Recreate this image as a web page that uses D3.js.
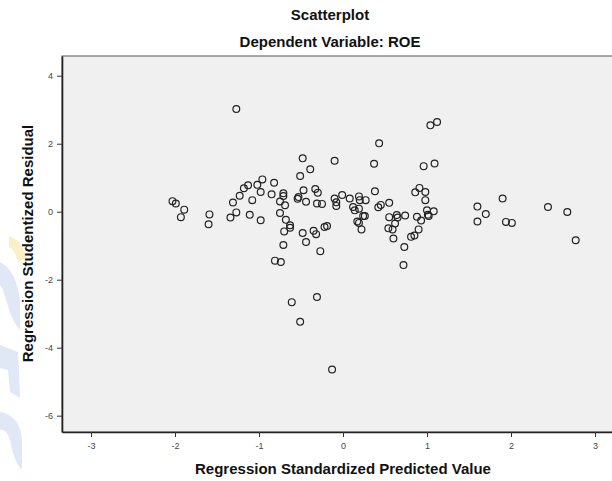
<!DOCTYPE html>
<html>
<head>
<meta charset="utf-8">
<script src="https://d3js.org/d3.v7.min.js"></script>
<style>
	body { margin: 0; background: #fff; }
	svg { display: block; }
</style>
</head>
<body>
<div id="chart-area"></div>
<script>
// values read off the reference scatterplot
// x = Regression Standardized Predicted Value
var predicted = [
	-1.27, -2.03, -1.99, -1.89, -1.93, -1.59, -1.60, -1.31, -1.23, -1.18,
	-1.13, -1.08, -1.27, -1.34, -1.11, -1.02, -0.98, -0.98,
	-0.48, -0.10, -0.39, -0.51, -0.96, -0.82, -0.85, -0.71, -0.71, -0.47,
	-0.33, -0.30, -0.53, -0.54, -0.44, -0.75, -0.69, -0.31, -0.25, -0.10,
	-0.08, -0.01, 0.08, -0.08, -0.75, -0.68, -0.63, -0.63, -0.70, -0.48,
	-0.35, -0.32, -0.22, -0.19, -0.44, -0.71, -0.27, -0.81, -0.74,
	0.37, 0.43, 0.38, 0.19, 0.20, 0.27, 0.12, 0.14, 0.19, 0.24,
	0.26, 0.17, 0.19, 0.22, 0.42, 0.45, 0.55, 0.55, 0.64, 0.65,
	0.74, 0.62, 0.54, 0.59, 0.60, 0.88, 0.93, 1.00, 1.08, 1.02,
	1.01, 0.90, 0.85, 0.81, 0.73, 0.72, 0.91, 0.86, 0.98, 0.98,
	0.96, 1.09, 1.04, 1.12,
	1.60, 1.70, 1.60, 1.90, 1.94, 2.01, 2.44, 2.67, 2.77,
	-0.31, -0.61, -0.51, -0.13
];
// y = Regression Studentized Residual
var residual = [
	3.02, 0.31, 0.24, 0.06, -0.16, -0.08, -0.37, 0.27, 0.47, 0.69,
	0.78, 0.34, -0.02, -0.17, -0.09, 0.79, 0.58, -0.25,
	1.57, 1.50, 1.25, 1.05, 0.95, 0.85, 0.51, 0.54, 0.46, 0.63,
	0.67, 0.56, 0.43, 0.38, 0.29, 0.30, 0.19, 0.24, 0.23, 0.39,
	0.28, 0.49, 0.39, 0.17, -0.04, -0.24, -0.40, -0.47, -0.58, -0.63,
	-0.56, -0.66, -0.45, -0.42, -0.89, -0.98, -1.16, -1.44, -1.48,
	1.41, 2.01, 0.60, 0.45, 0.34, 0.34, 0.14, 0.04, 0.09, -0.13,
	-0.13, -0.29, -0.33, -0.52, 0.13, 0.20, 0.26, -0.16, -0.10, -0.17,
	-0.11, -0.35, -0.49, -0.52, -0.79, -0.15, -0.26, 0.04, 0.01, -0.13,
	-0.09, -0.52, -0.70, -0.74, -1.04, -1.57, 0.70, 0.57, 0.58, 0.34,
	1.34, 1.42, 2.54, 2.64,
	0.15, -0.07, -0.29, 0.39, -0.30, -0.33, 0.14, -0.01, -0.84,
	-2.51, -2.66, -3.24, -4.64
];
var xTicks = [-3, -2, -1, 0, 1, 2, 3];
var yTicks = [4, 2, 0, -2, -4, -6];

var titleText = "Scatterplot";
var subTitleText = "Dependent Variable: ROE";
var xTitle = "Regression Standardized Predicted Value";
var yTitle = "Regression Studentized Residual";

//svg area
var svg_x = 612;
var svg_y = 481;

//plot frame (right edge runs a little past the picture)
var margin = {left:62, top:56};
var width = 562;
var height = 376;

var font = "Arial, 'Liberation Sans', sans-serif";

var svg = d3.select("#chart-area")
	.append("svg")
		.attr("width", svg_x)
		.attr("height", svg_y)
		.style("font-family", font);

//faint watermark at the left edge
var wm = svg.append("g").attr("opacity", 0.55);
wm.append("path")
	.attr("d", "M0,262 Q16,270 20,300 L20,330 Q12,322 6,300 Q3,288 0,285 Z")
	.attr("fill", "#c7d6ef");
wm.append("path")
	.attr("d", "M0,345 L18,352 L20,398 L10,392 L8,370 L0,368 Z")
	.attr("fill", "#c7d6ef");
wm.append("path")
	.attr("d", "M0,412 Q20,415 22,440 L22,470 Q14,462 10,440 Q6,428 0,430 Z")
	.attr("fill", "#c7d6ef");
wm.append("path")
	.attr("d", "M9,236 Q22,240 26,258 L18,262 Q15,250 9,247 Z")
	.attr("fill", "#f4e49a");

var g = svg.append("g")
	.attr("transform", "translate(" + margin.left + "," + margin.top + ")");

//scaling
var x = d3.scaleLinear()
	.domain([-3.345, 3.345])
	.range([0, width]);
var y = d3.scaleLinear()
	.domain([-6.48, 4.58])
	.range([height, 0]);

//plot background
g.append("rect")
	.attr("width", width)
	.attr("height", height)
	.attr("fill", "#f0f0f0")
	.attr("stroke", "#555")
	.attr("stroke-width", 1);

//axis
var xAxisCall = d3.axisBottom(x)
	.tickValues(xTicks)
	.tickSizeInner(5)
	.tickSizeOuter(0)
	.tickPadding(6)
	.tickFormat(d => String(d));
var xAxis = g.append("g")
	.attr("transform", "translate(0," + height + ")")
	.call(xAxisCall);

var yAxisCall = d3.axisLeft(y)
	.tickValues(yTicks)
	.tickSizeInner(5)
	.tickSizeOuter(0)
	.tickPadding(4)
	.tickFormat(d => String(d));
var yAxis = g.append("g")
	.call(yAxisCall);

[xAxis, yAxis].forEach(a => {
	a.select(".domain").attr("stroke", "#222").attr("stroke-width", 1.6);
	a.selectAll(".tick line").attr("stroke", "#333");
	a.selectAll(".tick text")
		.attr("fill", "#444")
		.attr("font-size", 9)
		.attr("font-family", font);
});

//points
g.selectAll("circle")
	.data(predicted.map((p, i) => ({x: p, y: residual[i]})))
	.enter()
	.append("circle")
		.attr("cx", d => x(d.x))
		.attr("cy", d => y(d.y))
		.attr("r", 3.4)
		.attr("fill", "none")
		.attr("stroke", "#222")
		.attr("stroke-width", 1.2);

//titles
svg.append("text")
	.attr("x", 330)
	.attr("y", 20)
	.attr("text-anchor", "middle")
	.attr("font-size", 15)
	.attr("font-weight", "bold")
	.attr("fill", "#111")
	.text(titleText);
svg.append("text")
	.attr("x", 330)
	.attr("y", 47)
	.attr("text-anchor", "middle")
	.attr("font-size", 15)
	.attr("font-weight", "bold")
	.attr("fill", "#111")
	.text(subTitleText);

//labels
g.append("text")
	.attr("x", x(0))
	.attr("y", height + 42)
	.attr("text-anchor", "middle")
	.attr("font-size", 15)
	.attr("font-weight", "bold")
	.attr("fill", "#111")
	.text(xTitle);
g.append("text")
	.attr("transform", "rotate(-90)")
	.attr("x", -(243.5 - margin.top))
	.attr("y", -29)
	.attr("text-anchor", "middle")
	.attr("font-size", 15)
	.attr("font-weight", "bold")
	.attr("fill", "#111")
	.text(yTitle);
</script>
</body>
</html>
